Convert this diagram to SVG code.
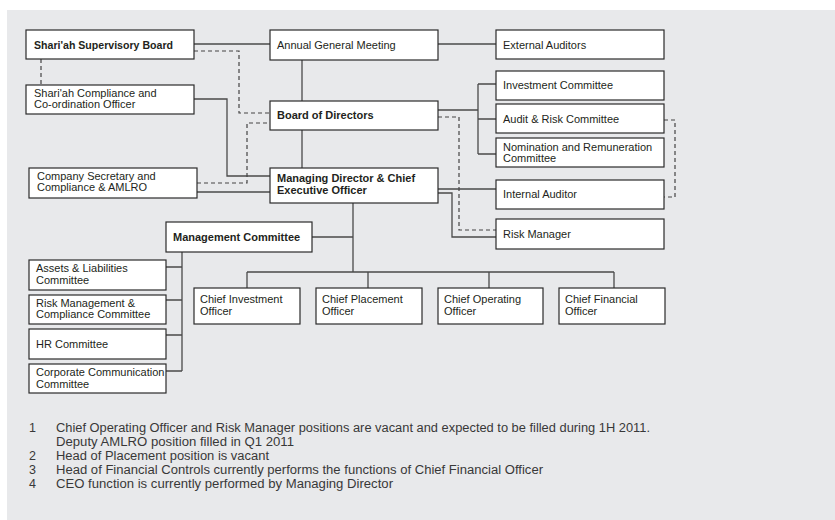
<svg xmlns="http://www.w3.org/2000/svg" width="835" height="520" viewBox="0 0 835 520">
  <defs>
    <style>
      .box { fill: #ffffff; stroke: #2b2b2b; stroke-width: 1.2; }
      .lbl { font-family: "Liberation Sans", Arial, sans-serif; font-size: 11px; fill: #231f20; }
      .b { font-weight: bold; }
      .ln { fill: none; stroke: #4a4a4a; stroke-width: 1.3; }
      .dash { fill: none; stroke: #444444; stroke-width: 1.2; stroke-dasharray: 4 3; }
      .note { font-family: "Liberation Sans", Arial, sans-serif; font-size: 12.5px; fill: #383838; }
    </style>
  </defs>

  <!-- panel -->
  <rect x="7" y="10" width="828" height="510" fill="#e8e9eb"/>

  <!-- connectors -->
  <g id="connectors">
    <path class="ln" d="M194,44 H270"/>
    <path class="ln" d="M438,44 H496"/>
    <path class="dash" d="M194,51 H239 V113 H270"/>
    <path class="dash" d="M41,59 V85"/>
    <path class="ln" d="M194,99 H227 V176 H270"/>
    <path class="dash" d="M197,183 H247 V123 H270"/>
    <path class="ln" d="M197,192 H270"/>
    <path class="ln" d="M302,60 V101"/>
    <path class="ln" d="M302,130 V168"/>
    <path class="ln" d="M438,110 H478 M478,84 V154 M478,84 H496 M478,119 H496 M478,154 H496"/>
    <path class="dash" d="M438,117 H459 V230 H496"/>
    <path class="ln" d="M438,189 H496"/>
    <path class="ln" d="M438,193 H452 V237 H496"/>
    <path class="dash" d="M664,120 H675 V197 H664"/>
    <path class="ln" d="M353,203 V272 M312,237 H353"/>
    <path class="ln" d="M247,272 H614 M247,272 V288 M368,272 V288 M489,272 V288 M614,272 V288"/>
    <path class="ln" d="M182,252 V371 M166,267 H182 M166,300 H182 M166,335 H182 M166,371 H182"/>
  </g>

  <!-- nodes -->
  <g id="shariah-board">
    <rect class="box" x="26" y="30" width="168" height="29"/>
    <text class="lbl b" x="34" y="48.5" textLength="139" lengthAdjust="spacingAndGlyphs">Shari'ah Supervisory Board</text>
  </g>
  <g id="shariah-officer">
    <rect class="box" x="26" y="85" width="168" height="29"/>
    <text class="lbl" x="34" y="97">Shari'ah Compliance and</text>
    <text class="lbl" x="34" y="108">Co-ordination Officer</text>
  </g>
  <g id="company-secretary">
    <rect class="box" x="29" y="168" width="168" height="30"/>
    <text class="lbl" x="37" y="180">Company Secretary and</text>
    <text class="lbl" x="37" y="191">Compliance &amp; AMLRO</text>
  </g>
  <g id="agm">
    <rect class="box" x="270" y="30" width="168" height="30"/>
    <text class="lbl" x="277" y="48.5">Annual General Meeting</text>
  </g>
  <g id="board">
    <rect class="box" x="270" y="101" width="168" height="29"/>
    <text class="lbl b" x="277" y="119">Board of Directors</text>
  </g>
  <g id="md-ceo">
    <rect class="box" x="270" y="168" width="168" height="35"/>
    <text class="lbl b" x="277" y="182">Managing Director &amp; Chief</text>
    <text class="lbl b" x="277" y="194">Executive Officer</text>
  </g>
  <g id="external-auditors">
    <rect class="box" x="496" y="30" width="168" height="29"/>
    <text class="lbl" x="503" y="48.5">External Auditors</text>
  </g>
  <g id="investment-committee">
    <rect class="box" x="496" y="71" width="168" height="29"/>
    <text class="lbl" x="503" y="89">Investment Committee</text>
  </g>
  <g id="audit-risk-committee">
    <rect class="box" x="496" y="104" width="168" height="29"/>
    <text class="lbl" x="503" y="122.5">Audit &amp; Risk Committee</text>
  </g>
  <g id="nomination-committee">
    <rect class="box" x="496" y="138" width="168" height="29"/>
    <text class="lbl" x="503" y="151">Nomination and Remuneration</text>
    <text class="lbl" x="503" y="161.5">Committee</text>
  </g>
  <g id="internal-auditor">
    <rect class="box" x="496" y="180" width="168" height="29"/>
    <text class="lbl" x="503" y="198">Internal Auditor</text>
  </g>
  <g id="risk-manager">
    <rect class="box" x="496" y="219" width="168" height="30"/>
    <text class="lbl" x="503" y="238">Risk Manager</text>
  </g>
  <g id="management-committee">
    <rect class="box" x="166" y="222" width="146" height="30"/>
    <text class="lbl b" x="173" y="241">Management Committee</text>
  </g>
  <g id="alco">
    <rect class="box" x="29" y="260" width="137" height="30"/>
    <text class="lbl" x="36" y="272">Assets &amp; Liabilities</text>
    <text class="lbl" x="36" y="284">Committee</text>
  </g>
  <g id="risk-compliance-committee">
    <rect class="box" x="29" y="295" width="137" height="29"/>
    <text class="lbl" x="36" y="307">Risk Management &amp;</text>
    <text class="lbl" x="36" y="318">Compliance Committee</text>
  </g>
  <g id="hr-committee">
    <rect class="box" x="29" y="329" width="137" height="30"/>
    <text class="lbl" x="36" y="347.5">HR Committee</text>
  </g>
  <g id="corporate-communication">
    <rect class="box" x="29" y="364" width="137" height="29"/>
    <text class="lbl" x="36" y="376">Corporate Communication</text>
    <text class="lbl" x="36" y="388">Committee</text>
  </g>
  <g id="cio">
    <rect class="box" x="194" y="288" width="106" height="36"/>
    <text class="lbl" x="200" y="303">Chief Investment</text>
    <text class="lbl" x="200" y="315">Officer</text>
  </g>
  <g id="cpo">
    <rect class="box" x="316" y="288" width="106" height="36"/>
    <text class="lbl" x="322" y="303">Chief Placement</text>
    <text class="lbl" x="322" y="315">Officer</text>
  </g>
  <g id="coo">
    <rect class="box" x="438" y="288" width="105" height="36"/>
    <text class="lbl" x="444" y="303">Chief Operating</text>
    <text class="lbl" x="444" y="315">Officer</text>
  </g>
  <g id="cfo">
    <rect class="box" x="559" y="288" width="106" height="36"/>
    <text class="lbl" x="565" y="303">Chief Financial</text>
    <text class="lbl" x="565" y="315">Officer</text>
  </g>

  <!-- footnotes -->
  <g id="notes">
    <text class="note" x="29" y="432">1</text>
    <text class="note" x="56" y="432" textLength="594" lengthAdjust="spacingAndGlyphs">Chief Operating Officer and Risk Manager positions are vacant and expected to be filled during 1H 2011.</text>
    <text class="note" x="56" y="446" textLength="238" lengthAdjust="spacingAndGlyphs">Deputy AMLRO position filled in Q1 2011</text>
    <text class="note" x="29" y="460">2</text>
    <text class="note" x="56" y="460" textLength="213" lengthAdjust="spacingAndGlyphs">Head of Placement position is vacant</text>
    <text class="note" x="29" y="474">3</text>
    <text class="note" x="56" y="474" textLength="487" lengthAdjust="spacingAndGlyphs">Head of Financial Controls currently performs the functions of Chief Financial Officer</text>
    <text class="note" x="29" y="488">4</text>
    <text class="note" x="56" y="488" textLength="337" lengthAdjust="spacingAndGlyphs">CEO function is currently performed by Managing Director</text>
  </g>
</svg>
